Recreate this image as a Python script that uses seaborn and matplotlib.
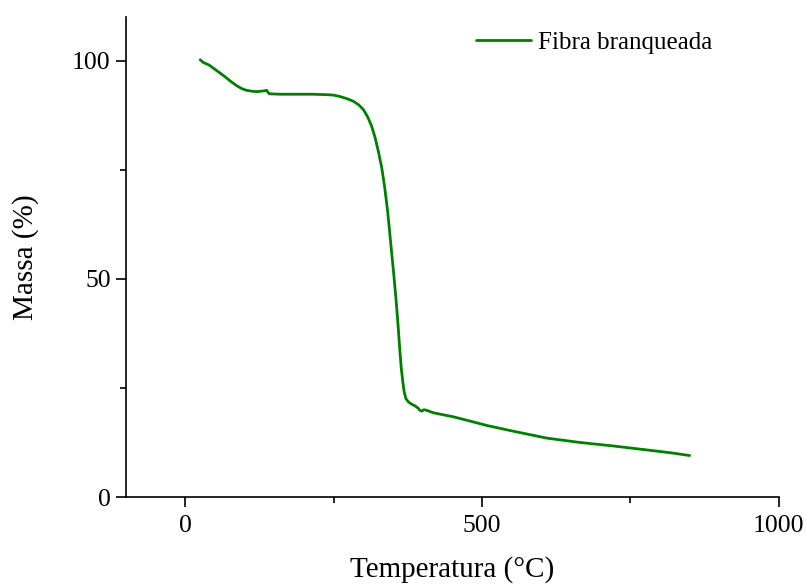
import matplotlib
matplotlib.use("Agg")
import matplotlib.pyplot as plt
import seaborn as sns
import pandas as pd
from matplotlib.ticker import MultipleLocator

temperature = [25, 30, 40, 47, 56, 66, 76, 86, 95, 103, 112, 120, 128, 134, 137, 140, 142,
               160, 193, 215, 238, 250, 260, 272, 283, 292, 300, 307, 314, 320, 326, 331,
               336, 341, 346, 351, 355, 358.5, 361.5, 364, 366.5, 369, 372, 376, 381, 387,
               392, 396, 399, 402, 406, 418, 451, 480, 508, 552, 609, 665, 721, 777, 820, 850]
mass = [100.2, 99.6, 99.0, 98.3, 97.4, 96.4, 95.3, 94.3, 93.6, 93.2, 93.0, 92.9, 93.0,
        93.1, 93.2, 92.6, 92.4, 92.3, 92.3, 92.3, 92.2, 92.1, 91.8, 91.3, 90.7, 89.9,
        88.8, 87.2, 85.0, 82.3, 78.8, 75.5, 71.0, 65.5, 58.5, 51.5, 45.5, 39.5, 33.7,
        29.5, 26.5, 24.0, 22.5, 21.8, 21.3, 20.9, 20.4, 19.8, 19.7, 20.0, 19.9, 19.3,
        18.4, 17.4, 16.4, 15.1, 13.5, 12.5, 11.7, 10.8, 10.1, 9.5]
series_label = "Fibra branqueada"
x_label = "Temperatura (°C)"
y_label = "Massa (%)"

df = pd.DataFrame({"T": temperature, "M": mass})

sns.set_style("ticks")
plt.rcParams["font.family"] = ["Liberation Serif", "DejaVu Serif"]
plt.rcParams["text.color"] = "black"
plt.rcParams["axes.labelcolor"] = "black"
plt.rcParams["xtick.color"] = "black"
plt.rcParams["ytick.color"] = "black"

fig = plt.figure(figsize=(8.06, 5.85), dpi=100)
ax = fig.add_axes([126 / 806, 1 - 497 / 585, (778.6 - 126) / 806, (497 - 17) / 585])

sns.lineplot(data=df, x="T", y="M", ax=ax, color="#008000", linewidth=2,
             sort=False, estimator=None, label=series_label)

ax.set_xlim(-100, 1000)
ax.set_ylim(0, 110)
ax.xaxis.set_major_locator(MultipleLocator(500))
ax.xaxis.set_minor_locator(MultipleLocator(250))
ax.yaxis.set_major_locator(MultipleLocator(50))
ax.yaxis.set_minor_locator(MultipleLocator(25))
sns.despine(ax=ax)
for s in ["left", "bottom"]:
    ax.spines[s].set_linewidth(1.2)
    ax.spines[s].set_color("black")
ax.tick_params(which="major", length=7, width=1.2, labelsize=18.5, direction="out")
ax.tick_params(which="minor", length=4.5, width=1.2, direction="out")
ax.tick_params(axis="x", pad=6)
ax.tick_params(axis="y", pad=4)

ax.set_xlabel(x_label, fontsize=21, labelpad=14)
ax.set_ylabel(y_label, fontsize=21, labelpad=24)

leg = ax.legend(loc="center left", bbox_to_anchor=(0.536, 0.946), frameon=False,
                fontsize=18, handlelength=2.2, handletextpad=0.3,
                borderpad=0, borderaxespad=0)

fig.savefig("out.png", dpi=100)
